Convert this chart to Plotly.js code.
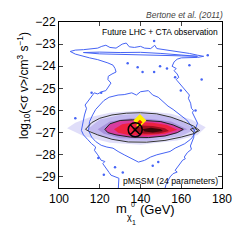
<!DOCTYPE html>
<html><head><meta charset="utf-8">
<script src="https://cdn.plot.ly/plotly-3.0.1.min.js"></script>
<style>html,body{margin:0;padding:0;background:#fff;}#chart{width:249px;height:249px;}</style>
</head><body><div id="chart"></div>
<script>
// ---- data (GeV, log10 <sigma v>) ----
const xTicks = [100, 120, 140, 160, 180];
const yTicks = [-22, -23, -24, -25, -26, -27, -28, -29];

// outer (95%) blue contour: band + ring
const outerBlueX = [105.5,108,112,116,119,121,123,125,128,131,133,134.5,137,140,142,145,147,148,152,156,160,164,168,171,
  168,164,160,158,156.5,155.5,157.5,156.5,158,158.8,157.5,158,159.5,160.5,161,163,164,163.5,164.6,165,166,165.5,167,168,167,166,166.2,165.5,164.5,165,163,161.5,162,160.7,159,158,157,158,156,154.5,153.5,152.5,151.5,
  129,129.4,127,125.5,124.6,123,121.5,122.5,120.7,119,117.4,118,116,114,112,111,111.5,112.5,113.5,112.8,114.3,115.5,117.3,119,121,123,124.5,125.5,124,124.2,126,128,127.5,126.5,124,121,119,115,111,108,105.5];
const outerBlueY = [-23.33,-23.27,-23.25,-23.22,-23.18,-23.1,-23.05,-23.15,-23.18,-23.0,-22.95,-23.12,-23.15,-23.1,-23.18,-23.2,-23.05,-23.2,-23.25,-23.3,-23.35,-23.42,-23.5,-23.55,
  -23.6,-23.62,-23.62,-23.68,-23.8,-24.0,-24.1,-24.2,-24.35,-24.5,-24.6,-24.65,-24.8,-24.9,-25.0,-25.17,-25.3,-25.45,-25.67,-25.9,-26.0,-26.1,-26.35,-26.57,-26.8,-27.0,-27.2,-27.35,-27.6,-27.75,-27.9,-28.1,-28.18,-28.24,-28.45,-28.56,-28.7,-28.78,-28.85,-29.0,-29.15,-29.35,-29.7,
  -29.7,-29.06,-28.97,-28.92,-28.8,-28.6,-28.4,-28.3,-28.25,-28.0,-27.8,-27.65,-27.5,-27.3,-27.1,-26.9,-26.6,-26.2,-25.9,-25.75,-25.57,-25.4,-25.2,-25.25,-25.15,-25.1,-24.9,-24.76,-24.6,-24.45,-24.35,-24.26,-24.1,-23.95,-23.85,-23.75,-23.7,-23.62,-23.52,-23.45,-23.33];

// thin inner loop inside the top band
const bandInnerX = [112,120,130,140,150,160,168,160,150,140,130,120,112];
const bandInnerY = [-23.38,-23.36,-23.38,-23.37,-23.42,-23.48,-23.55,-23.53,-23.5,-23.47,-23.46,-23.44,-23.38];

// inner (68%) blue contour
const innerBlueX = [120,122,124.6,127,129,132,135.7,138,140,143.9,146,148.7,151,153.5,156,158,160.5,162.7,165,167,165.5,164.6,161.7,159,157,154.5,152,148,145,142,139,137,134.5,132,129,126.5,123.5,120.7,118,116,114.5,115,116.5,118,120];
const innerBlueY = [-25.75,-25.55,-25.4,-25.35,-25.3,-25.28,-25.2,-25.3,-25.15,-25.1,-25.3,-25.4,-25.6,-25.8,-25.95,-26.1,-26.3,-26.43,-26.7,-27.0,-27.2,-27.3,-27.5,-27.6,-27.7,-27.85,-27.9,-28.0,-28.1,-28.25,-28.33,-28.24,-28.15,-28.0,-27.85,-27.7,-27.65,-27.57,-27.4,-27.2,-26.9,-26.5,-26.2,-25.95,-25.75];

// black contours (CTA reconstruction)
const blackOuterX = [113,116,120,126,133,140,148,155,161,166,169,166,160,152,143,134,126,119,115,113];
const blackOuterY = [-26.85,-26.55,-26.35,-26.2,-26.12,-26.1,-26.15,-26.3,-26.5,-26.7,-26.9,-27.05,-27.2,-27.35,-27.43,-27.42,-27.3,-27.1,-26.95,-26.85];
const blackInnerX = [122.5,125,130,136,142,150,156,161,158,152,144,135,128,124,122.5];
const blackInnerY = [-26.85,-26.6,-26.45,-26.42,-26.45,-26.5,-26.65,-26.85,-27.0,-27.15,-27.22,-27.2,-27.1,-27.0,-26.85];
const blobX = [164.5,166.5,168,166.5,164.5];
const blobY = [-26.85,-26.78,-26.9,-27.02,-26.85];

// posterior density levels (outer to inner)
const hazeX = [104,108,115,125,140,155,165,172,168,158,140,125,112,104];
const hazeY = [-26.8,-26.55,-26.3,-26.1,-26.0,-26.15,-26.4,-26.75,-27.1,-27.35,-27.55,-27.45,-27.15,-26.8];
const purple1X = [114,120,130,140,150,160,167,160,145,130,120,114];
const purple1Y = [-26.85,-26.4,-26.2,-26.15,-26.2,-26.45,-26.85,-27.15,-27.38,-27.35,-27.15,-26.85];
const purple2X = [119,125,135,145,155,163,155,143,130,122,119];
const purple2Y = [-26.85,-26.5,-26.35,-26.38,-26.5,-26.85,-27.1,-27.28,-27.25,-27.05,-26.85];
const redX = [127,131,138,146,153,158,152,143,134,129,127];
const redY = [-26.85,-26.62,-26.52,-26.55,-26.65,-26.87,-27.05,-27.13,-27.1,-27.0,-26.85];
const darkX = [136,140,146,152,154,149,142,137,136];
const darkY = [-26.8,-26.68,-26.7,-26.8,-26.92,-27.04,-27.05,-26.95,-26.8];
const coreX = [141,145,150,151,146,142,141];
const coreY = [-26.85,-26.78,-26.84,-26.93,-26.99,-26.95,-26.85];

// isolated blue islands
const dotsX = [146.7,138.6,141,146.7,153,116,120.7,133.7,173,164,157,148.7,146,167,119.3,127.5,131.3,108,159.8,149.6,122,170];
const dotsY = [-22.86,-24.04,-24.26,-24.26,-24.1,-25.2,-25.2,-23.86,-23.5,-23.95,-24.5,-28.33,-28.5,-26.0,-28.15,-28.56,-28.8,-26.35,-25.1,-24.0,-28.9,-24.6];

// benchmark (true point) and best fit
const benchX = [137.4];
const benchY = [-26.87];
const bestX = [139.7];
const bestY = [-26.45];
const streakX = [139.6, 138.6];
const streakY = [-26.5, -26.72];

const BLUE = 'rgb(70,100,245)';
function fillPoly(x, y, color) {
  return {x: x, y: y, type: 'scatter', mode: 'lines', fill: 'toself', fillcolor: color,
          line: {width: 0, color: color}, hoverinfo: 'skip'};
}
function line(x, y, color, w) {
  return {x: x, y: y, type: 'scatter', mode: 'lines', line: {color: color, width: w}, hoverinfo: 'skip'};
}

const traces = [
  fillPoly(hazeX, hazeY, 'rgba(218,216,248,0.85)'),
  fillPoly(purple1X, purple1Y, 'rgba(192,182,238,0.95)'),
  fillPoly(purple2X, purple2Y, '#a892dc'),
  fillPoly(blackInnerX, blackInnerY, '#d83c9e'),
  fillPoly(redX, redY, '#ee2242'),
  fillPoly(darkX, darkY, '#a01020'),
  fillPoly(coreX, coreY, '#3a0606'),
  line(outerBlueX, outerBlueY, BLUE, 1),
  line(bandInnerX, bandInnerY, BLUE, 1),
  line(innerBlueX, innerBlueY, BLUE, 1),
  {x: dotsX, y: dotsY, type: 'scatter', mode: 'markers', marker: {color: BLUE, size: 2.5}, hoverinfo: 'skip'},
  line(blackOuterX, blackOuterY, '#333', 1),
  line(blackInnerX, blackInnerY, '#222', 1),
  line(blobX, blobY, '#333', 1),
  line(streakX, streakY, '#ffe600', 3),
  {x: bestX, y: bestY, type: 'scatter', mode: 'markers', marker: {symbol: 'diamond', size: 10, color: '#ffee00'}, hoverinfo: 'skip'},
  {x: bestX, y: [bestY[0] - 0.08], type: 'scatter', mode: 'markers', marker: {symbol: 'diamond', size: 4, color: '#e81010'}, hoverinfo: 'skip'},
  {x: benchX, y: benchY, type: 'scatter', mode: 'markers', marker: {symbol: 'circle-x-open', size: 14, color: '#000', line: {width: 1.5, color: '#000'}}, hoverinfo: 'skip'}
];

const FONT = 'Liberation Sans, Arial, Helvetica, sans-serif';
const PL = 59, PW = 163, PB = 188, PH = 166;
function lab(text, px, py, size, anchor) {
  return {text: text, xref: 'paper', yref: 'paper', x: (px - PL) / PW, y: (PB - py) / PH,
          xanchor: anchor || 'center', yanchor: 'middle', showarrow: false, borderpad: 0, font: {size: size}};
}
const layout = {
  width: 249, height: 249,
  margin: {l: PL, r: 249 - PL - PW, t: 22, b: 249 - PB},
  paper_bgcolor: '#fff', plot_bgcolor: '#fff',
  showlegend: false,
  font: {family: FONT, size: 12, color: '#000'},
  xaxis: {range: [100, 180], tickvals: xTicks, ticktext: xTicks.map(String), ticks: 'inside', ticklen: 4,
          showgrid: false, zeroline: false, showline: true, linecolor: '#000', linewidth: 1, mirror: 'ticks',
          tickfont: {size: 12}, fixedrange: true},
  yaxis: {range: [-29.5, -22], tickvals: yTicks, ticks: 'inside', ticklen: 4,
          showgrid: false, zeroline: false, showline: true, linecolor: '#000', linewidth: 1, mirror: 'ticks',
          tickfont: {size: 12}, fixedrange: true},
  annotations: [
    {text: '<i>Bertone et al. (2011)</i>', xref: 'paper', yref: 'paper', x: 1.02, y: 1.045, xanchor: 'right', yanchor: 'middle',
     showarrow: false, font: {size: 8.5, color: '#444'}},
    {text: 'Future LHC + CTA observation', xref: 'paper', yref: 'paper', x: 0.99, y: 0.94, xanchor: 'right', yanchor: 'middle',
     showarrow: false, font: {size: 8.5, color: '#000'}},
    {text: 'pMSSM (24 parameters)', xref: 'paper', yref: 'paper', x: 0.99, y: 0.043, xanchor: 'right', yanchor: 'middle',
     showarrow: false, font: {size: 8.7, color: '#000'}},
    {text: 'log<sub>10</sub>(&lt;σ v&gt;/cm<sup>3</sup> s<sup>−1</sup>)', xref: 'paper', yref: 'paper', x: -0.215, y: 0.62,
     xanchor: 'center', yanchor: 'middle', textangle: -90, showarrow: false, font: {size: 12}},
    lab('m', 121.5, 208.5, 13),
    lab('χ', 129, 217, 9),
    lab('0', 132.5, 204, 7),
    lab('1', 134, 222.5, 7),
    lab('(GeV)', 138.5, 209.5, 13, 'left')
  ]
};
Plotly.newPlot('chart', traces, layout, {staticPlot: true, displayModeBar: false});
</script></body></html>
